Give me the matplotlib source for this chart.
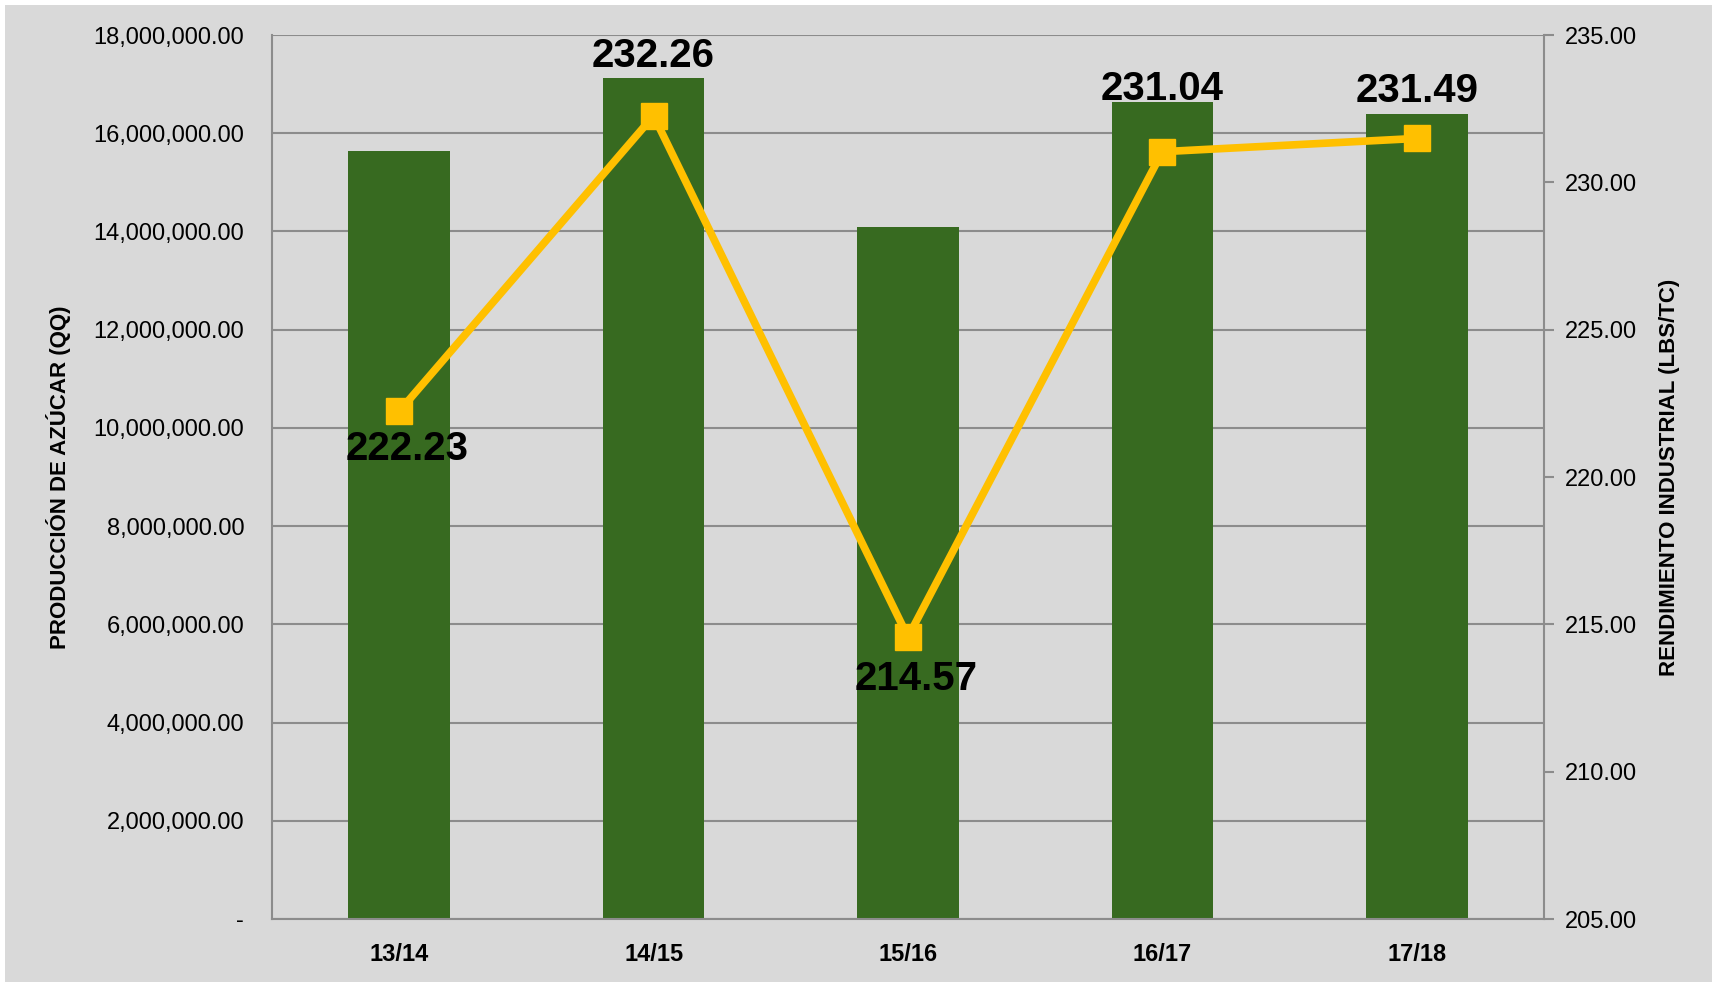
import matplotlib.pyplot as plt
from matplotlib.ticker import FuncFormatter

plt.rcParams['font.family'] = ['Liberation Sans Narrow', 'Liberation Sans', 'DejaVu Sans']

# datos
zafras = ['13/14', '14/15', '15/16', '16/17', '17/18']
produccion = [15640000, 17130000, 14100000, 16640000, 16390000]
rendimiento = [222.23, 232.26, 214.57, 231.04, 231.49]

# desplazamiento de cada etiqueta (puntos)
lbl_dx = [6, 0, 6, 0, 0]
lbl_dy = [-27, 43, -30, 45, 34]

bg = '#d9d9d9'
gris = '#8c8c8c'

fig = plt.figure(figsize=(17.17, 9.85), dpi=100)
fig.patch.set_facecolor('white')
fondo = fig.add_axes([5 / 1717, 3 / 985, 1707 / 1717, 977 / 985])
fondo.set_facecolor(bg)
fondo.set_xticks([])
fondo.set_yticks([])
for s in fondo.spines.values():
    s.set_visible(False)

ax = fig.add_axes([272 / 1717, 1 - 919 / 985, (1544 - 272) / 1717, (919 - 35) / 985])
ax.set_facecolor(bg)
x = list(range(len(zafras)))
ax.bar(x, produccion, width=0.4, color='#376a20', zorder=2)
ax.set_xlim(-0.5, 4.5)
ax.set_ylim(0, 18000000)
ax.set_yticks(range(0, 18000001, 2000000))
ax.yaxis.set_major_formatter(FuncFormatter(lambda v, p: '-' if v == 0 else f'{v:,.2f}'))
ax.grid(axis='y', color=gris, linewidth=1.5, zorder=0)
ax.set_xticks(x)
ax.set_xticklabels(zafras, fontsize=17, fontweight='bold')
ax.tick_params(axis='x', length=0, pad=17)
ax.tick_params(axis='y', length=0, labelsize=17, pad=20)
for s in ['left', 'bottom', 'right']:
    ax.spines[s].set_color(gris)
    ax.spines[s].set_linewidth(1.5)
ax.spines['top'].set_visible(False)
ax.set_ylabel('PRODUCCIÓN DE AZÚCAR (QQ)', fontsize=16, fontweight='bold', labelpad=16)

ax2 = ax.twinx()
ax2.plot(x, rendimiento, color='#ffc000', linewidth=5.5, marker='s', markersize=19, zorder=3)
ax2.set_ylim(205, 235)
ax2.set_yticks(range(205, 236, 5))
ax2.yaxis.set_major_formatter(FuncFormatter(lambda v, p: f'{v:.2f}'))
ax2.tick_params(axis='y', direction='out', length=7, width=1.5, color=gris, labelsize=17, pad=8)
for s in ax2.spines.values():
    s.set_visible(False)
ax2.set_ylabel('RENDIMIENTO INDUSTRIAL (LBS/TC)', fontsize=16, fontweight='bold', labelpad=16)

for i, v in enumerate(rendimiento):
    ax2.annotate(f'{v:.2f}', (i, v), xytext=(lbl_dx[i], lbl_dy[i]), textcoords='offset points',
                 ha='center', va='center', fontsize=29, fontweight='bold')

fig.savefig('out.png', dpi=100, facecolor=fig.get_facecolor())
